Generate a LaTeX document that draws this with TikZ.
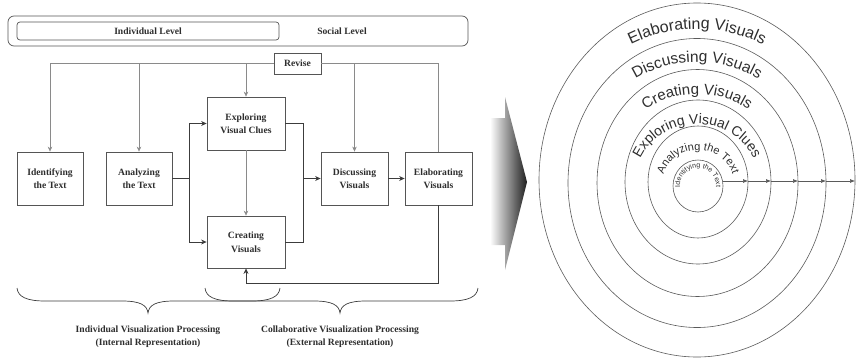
\documentclass[tikz,border=0pt]{standalone}
\usepackage{fontspec}
\setmainfont{Liberation Serif}
\newfontfamily\ringfont{Liberation Sans}
\usetikzlibrary{arrows.meta,decorations.text,shadings}

\definecolor{inkgray}{HTML}{2E2E2E}
\definecolor{framegray}{HTML}{555555}
\definecolor{wiregray}{HTML}{8A8A8A}
\definecolor{darkwire}{HTML}{3C3C3C}
\definecolor{ringgray}{HTML}{5A5A5A}

\tikzset{
  stagebox/.style={draw=framegray, line width=0.8pt, fill=white, align=center,
    text=inkgray, font=\bfseries\fontsize{9.6}{13.5}\selectfont,
    minimum height=53pt, inner sep=0pt},
  levelbox/.style={draw=framegray, line width=0.7pt, inner sep=0pt},
  lbl/.style={text=inkgray, font=\bfseries\fontsize{9.6}{12}\selectfont, inner sep=0pt},
  caption/.style={text=inkgray, align=center, font=\bfseries\fontsize{9.6}{13}\selectfont, inner sep=0pt},
  lightwire/.style={draw=wiregray, line width=0.6pt},
  lightarrow/.style={lightwire, -{Stealth[length=5pt,width=4.5pt]}},
  heavywire/.style={draw=darkwire, line width=0.8pt},
  heavyarrow/.style={heavywire, -{Stealth[length=5.5pt,width=5pt]}},
  bracewire/.style={draw=darkwire, line width=0.7pt},
  ring/.style={draw=ringgray, line width=0.6pt},
  ringarrow/.style={draw=ringgray, line width=0.6pt, -{Latex[length=5pt,width=4pt]}},
  ringlabel/.style={decorate, decoration={text along path, text align=center,
    text color=inkgray, text={#1}}},
}

\begin{document}
\begin{tikzpicture}[x=1pt,y=1pt]
\useasboundingbox (0,0) rectangle (856,357);

% ---------- level bar ----------
\node[levelbox, rounded corners=6pt, minimum width=460pt, minimum height=30pt] (levels) at (238,326) {};
\node[levelbox, rounded corners=3pt, minimum width=262pt, minimum height=18pt] (indivbar) at (148,326) {};
\node[lbl] (indiv) at (148,326) {Individual Level};
\node[lbl] (social) at (342,326) {Social Level};

% ---------- process stages ----------
\node[stagebox, minimum width=47pt, minimum height=21pt] (revise) at (297.5,293.5) {Revise};
\node[stagebox, minimum width=66pt] (ident)  at (50,178.5)  {Identifying\\the Text};
\node[stagebox, minimum width=66pt] (analyz) at (139,178.5) {Analyzing\\the Text};
\node[stagebox, minimum width=78pt] (explor) at (246,233.5) {Exploring\\Visual Clues};
\node[stagebox, minimum width=78pt, minimum height=52pt] (creat) at (246,115) {Creating\\Visuals};
\node[stagebox, minimum width=67pt] (discus) at (354.5,178.5) {Discussing\\Visuals};
\node[stagebox, minimum width=67pt] (elab)   at (438.5,178.5) {Elaborating\\Visuals};

% revise feedback to every stage
\draw[lightwire] (elab.north) |- (revise.east);
\draw[lightarrow] (revise.west) -| (ident.north);
\draw[lightarrow] (revise.west -| analyz.north) -- (analyz.north);
\draw[lightarrow] (revise.west -| explor.north) -- (explor.north);
\draw[lightarrow] (revise.east -| discus.north) -- (discus.north);

% forward flow
\coordinate (split) at (189,178.5);
\coordinate (merge) at (303,178.5);
\coordinate (loop) at (438.5,74);
\draw[heavywire] (analyz.east) -- (split);
\draw[heavyarrow] (split) |- (explor.west);
\draw[heavyarrow] (split) |- (creat.west);
\draw[heavywire] (explor.east) -| (merge);
\draw[heavywire] (creat.east) -| (merge);
\draw[heavyarrow] (merge) -- (discus.west);
\draw[lightarrow] (explor.south) -- (creat.north);
\draw[heavyarrow] (discus.east) -- (elab.west);
\draw[heavyarrow] (elab.south) -- (elab.south |- loop) -| (creat.south);

% ---------- braces ----------
\draw[bracewire] (17,69) .. controls (18,60) and (27,56) .. (45,56) -- (122,56)
  .. controls (140,56) and (147,52) .. (148,44)
  .. controls (149,52) and (156,56) .. (174,56) -- (252,56)
  .. controls (270,56) and (279,60) .. (280,69);
\draw[bracewire] (205,69) .. controls (206,60) and (215,56) .. (233,56) -- (314,56)
  .. controls (332,56) and (339,52) .. (340,44)
  .. controls (341,52) and (348,56) .. (366,56) -- (450,56)
  .. controls (468,56) and (477,60) .. (478,69);

\node[caption] (indcap) at (148,20.5) {Individual Visualization Processing\\(Internal Representation)};
\node[caption] (colcap) at (340,20.5) {Collaborative Visualization Processing\\(External Representation)};

% ---------- shaded pointer ----------
\shade[left color=white, right color=black!88]
  (490,239) -- (505,239) -- (505,260) -- (527,175) -- (505,87) -- (505,112) -- (490,112) -- cycle;

% ---------- nested rings ----------
\draw[ring] (698,171) ellipse [x radius=25pt, y radius=26pt];
\draw[ring] (698,175) ellipse [x radius=50pt, y radius=56pt];
\draw[ring] (698,175) ellipse [x radius=73pt, y radius=82pt];
\draw[ring] (697.5,174) ellipse [x radius=100.5pt, y radius=113.5pt];
\draw[ring] (697,174) ellipse [x radius=129pt, y radius=144.5pt];
\draw[ring] (697,177) ellipse [x radius=158pt, y radius=177pt];

\coordinate (a1) at (722.5,176);
\coordinate (a2) at (748,176);
\coordinate (a3) at (771,176);
\coordinate (a4) at (798,176);
\coordinate (a5) at (826,176);
\coordinate (a6) at (855,176);
\draw[ringarrow] (a1) -- (a2);
\draw[ringarrow] (a2) -- (a3);
\draw[ringarrow] (a3) -- (a4);
\draw[ringarrow] (a4) -- (a5);
\draw[ringarrow] (a5) -- (a6);

\coordinate (rc) at (697,175);
\path[ringlabel={|\ringfont\fontsize{16}{16}\selectfont|Elaborating Visuals}]
  (rc) ++(180:150pt and 153pt) arc[start angle=180, end angle=0, x radius=150pt, y radius=153pt];
\path[ringlabel={|\ringfont\fontsize{15.5}{15.5}\selectfont|Discussing Visuals}]
  (rc) ++(180:120pt and 120pt) arc[start angle=180, end angle=0, x radius=120pt, y radius=120pt];
\path[ringlabel={|\ringfont\fontsize{15}{15}\selectfont|Creating Visuals}]
  (rc) ++(180:90pt and 88pt) arc[start angle=180, end angle=0, x radius=90pt, y radius=88pt];
\path[ringlabel={|\ringfont\fontsize{14}{14}\selectfont|Exploring Visual Clues}]
  (rc) ++(190:62pt and 58pt) arc[start angle=190, end angle=-10, x radius=62pt, y radius=58pt];
\path[ringlabel={|\ringfont\fontsize{11}{11}\selectfont|Analyzing the Text}]
  (698,173) ++(190:36pt and 34pt) arc[start angle=190, end angle=-10, x radius=36pt, y radius=34pt];
\path[ringlabel={|\ringfont\fontsize{7}{7}\selectfont|Identifying the Text}]
  (698,171) ++(215:18pt and 18pt) arc[start angle=215, end angle=-35, x radius=18pt, y radius=18pt];
\end{tikzpicture}
\end{document}
